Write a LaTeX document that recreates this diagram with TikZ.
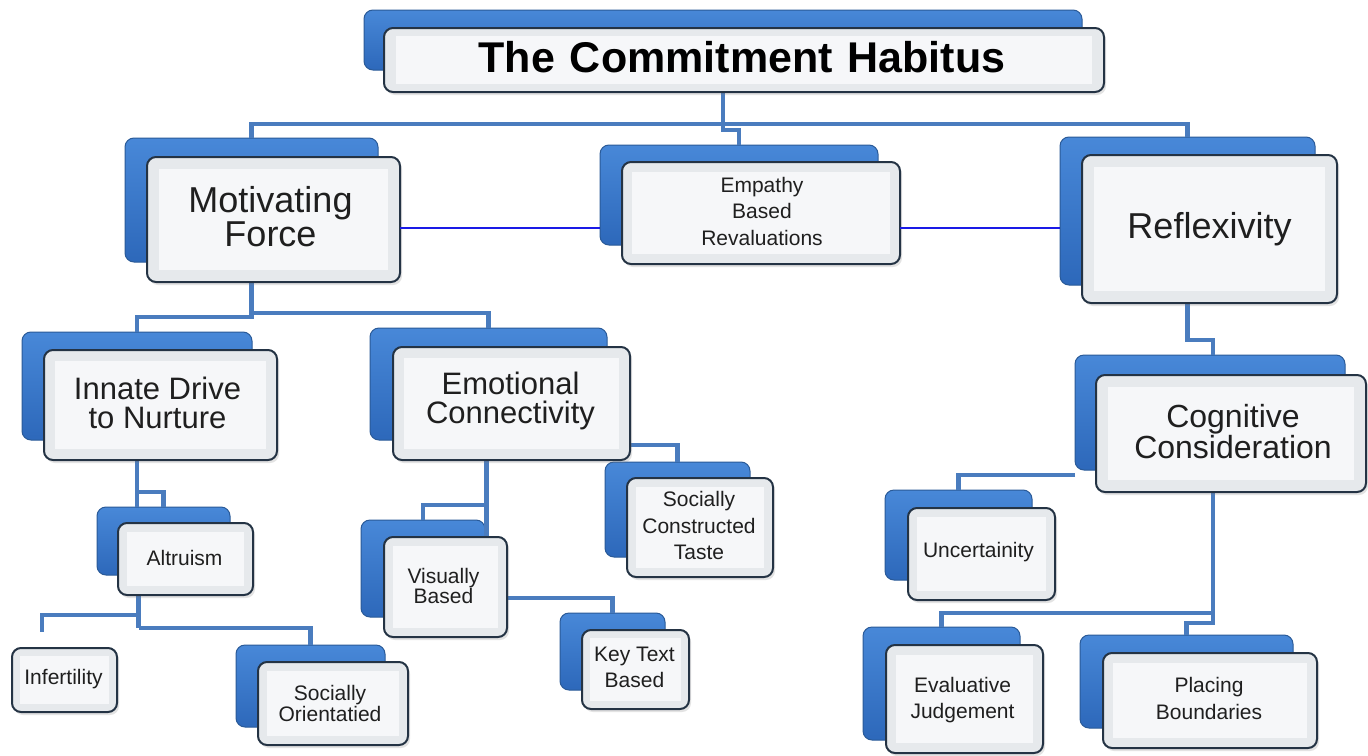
\documentclass[tikz,border=0pt]{standalone}
\usepackage{fontspec}
\setmainfont{Liberation Sans}
\usetikzlibrary{fit,calc,shadows}
\definecolor{bbtop}{HTML}{4888D8}
\definecolor{bbbot}{HTML}{2D68BA}
\definecolor{bbedge}{HTML}{2A5A98}
\definecolor{fbout}{HTML}{E6E9EC}
\definecolor{fbin}{HTML}{F6F7F9}
\definecolor{fbedge}{HTML}{243344}
\definecolor{connblue}{HTML}{4A7CBE}
\definecolor{linkblue}{HTML}{1A1AE6}
\tikzset{
  backbox/.style={rectangle, rounded corners=9pt, top color=bbtop, bottom color=bbbot, draw=bbedge, line width=1pt, inner sep=0pt, outer sep=0pt},
  frontbox/.style={rectangle, rounded corners=9pt, fill=fbout, draw=fbedge, line width=2pt, inner sep=0pt, outer sep=0pt, drop shadow={opacity=0.22, shadow xshift=2pt, shadow yshift=-3pt}},
  innerpanel/.style={rectangle, fill=fbin, inner sep=0pt, outer sep=0pt},
  conn/.style={draw=connblue, line width=4.5pt, line join=miter},
  link/.style={draw=linkblue, line width=1.5pt},
  lab/.style={align=center, inner sep=0pt, text=black!88},
  ttl/.style={lab, text=black, font=\fontsize{43}{46}\selectfont\bfseries},
  bigA/.style={lab, font=\fontsize{36}{34}\selectfont},
  bigB/.style={lab, font=\fontsize{31}{29}\selectfont},
  bigC/.style={lab, font=\fontsize{31}{29}\selectfont},
  bigD/.style={lab, font=\fontsize{32}{29}\selectfont},
  sm/.style={lab, font=\fontsize{21}{26.5}\selectfont},
  smT/.style={lab, font=\fontsize{21}{19}\selectfont},
  smO/.style={lab, font=\fontsize{21}{20.5}\selectfont},
}
\begin{document}
\begin{tikzpicture}[x=1pt,y=-1pt]
\useasboundingbox (0,0) rectangle (1368,755);
\fill[white] (0,0) rectangle (1368,755);

% ---------- back boxes ----------
\node[backbox, fit={(364,10) (1082,70)}] (titleb) {};
\node[backbox, fit={(125,138) (378,262)}] (motb) {};
\node[backbox, fit={(600,145) (878,245)}] (empb) {};
\node[backbox, fit={(1060,137) (1315,285)}] (refb) {};
\node[backbox, fit={(22,332) (252,440)}] (innb) {};
\node[backbox, fit={(370,328) (607,440)}] (emob) {};
\node[backbox, fit={(605,462) (750,557)}] (sctb) {};
\node[backbox, fit={(97,507) (230,575)}] (altb) {};
\node[backbox, fit={(361,520) (485,617)}] (visb) {};
\node[backbox, fit={(560,613) (665,690)}] (keyb) {};
\node[backbox, fit={(236,645) (385,727)}] (sorb) {};
\node[backbox, fit={(1075,355) (1345,470)}] (cogb) {};
\node[backbox, fit={(885,490) (1032,580)}] (uncb) {};
\node[backbox, fit={(863,627) (1020,740)}] (evab) {};
\node[backbox, fit={(1080,635) (1293,728)}] (plab) {};

% ---------- connectors ----------
\coordinate (hA) at (0,228);
\draw[conn] (titleb.south) -- ++(0,54) -| (motb.north);
\draw[conn] (titleb.south) -- ++(0,54) -| (refb.north);
\draw[conn] (titleb.south) -- ++(0,60) -| (empb.north);
\draw[conn] (motb.south) -- ++(0,55) -| (innb.north);
\draw[conn] (motb.south) -- ++(0,51) -| (emob.north);
\draw[conn] (innb.south) -- (innb.south |- altb.north);
\draw[conn] (innb.south) -- ++(0,52) -| (altb.north);
\draw[conn] ([xshift=-25pt]altb.south) -- ++(0,53) coordinate (altj);
\coordinate (infend) at (42,632);
\draw[conn] (altj |- 0,615) -| (infend);
\draw[conn] (altj |- 0,628) -| (sorb.north);
\draw[conn] ([xshift=-2pt]emob.south) -- ++(0,97);
\draw[conn] ([xshift=-2pt]emob.south) -- ++(0,65) -| (visb.north);
\draw[conn] (emob.south east |- 0,445) -| (sctb.north);
\draw[conn] (visb.east |- 0,598) -| (keyb.north);
\draw[conn] (refb.south) -- ++(0,55) -| ([xshift=3pt]cogb.north);
\draw[conn] (cogb.south west |- 0,475) -| (uncb.north);
\draw[conn] ([xshift=3pt]cogb.south) -- ++(0,153) -| (plab.north);
\draw[conn] ([xshift=3pt]cogb.south) -- ++(0,143) -| (evab.north);

% ---------- front boxes ----------
\node[frontbox, fit={(384,28) (1104,92)}] (title) {};
\node[innerpanel, fit={($(title.north west)+(12,8)$) ($(title.south east)-(12,8)$)}] (titlep) {};
\node[ttl] (titlet) at ($(title.center)+(-2,-3)$) {The\hspace{15pt}Commitment\hspace{15pt}Habitus};

\node[frontbox, fit={(147,157) (400,282)}] (mot) {};
\node[innerpanel, fit={($(mot.north west)+(12,12)$) ($(mot.south east)-(12,12)$)}] (motp) {};
\node[bigA] (mott) at ($(mot.center)+(-3,-3)$) {Motivating\\Force};

\node[frontbox, fit={(622,162) (900,264)}] (emp) {};
\node[innerpanel, fit={($(emp.north west)+(10,10)$) ($(emp.south east)-(10,10)$)}] (empp) {};
\node[sm] (empt) at ($(emp.center)+(1,-2)$) {Empathy\\Based\\Revaluations};

\node[frontbox, fit={(1082,155) (1337,303)}] (ref) {};
\node[innerpanel, fit={($(ref.north west)+(12,12)$) ($(ref.south east)-(12,12)$)}] (refp) {};
\node[bigA] (reft) at ($(ref.center)+(0,0)$) {Reflexivity};

\node[frontbox, fit={(44,350) (277,460)}] (inn) {};
\node[innerpanel, fit={($(inn.north west)+(11,11)$) ($(inn.south east)-(11,11)$)}] (innp) {};
\node[bigB] (innt) at ($(inn.center)+(-3,-2)$) {Innate Drive\\to Nurture};

\node[frontbox, fit={(393,347) (630,460)}] (emo) {};
\node[innerpanel, fit={($(emo.north west)+(11,11)$) ($(emo.south east)-(11,11)$)}] (emop) {};
\node[bigC] (emot) at ($(emo.center)+(-1,-3)$) {Emotional\\Connectivity};

\node[frontbox, fit={(627,478) (773,577)}] (sct) {};
\node[innerpanel, fit={($(sct.north west)+(9,9)$) ($(sct.south east)-(9,9)$)}] (sctp) {};
\node[sm] (sctt) at ($(sct.center)+(-1,-2)$) {Socially\\Constructed\\Taste};

\node[frontbox, fit={(118,523) (253,595)}] (alt) {};
\node[innerpanel, fit={($(alt.north west)+(9,9)$) ($(alt.south east)-(9,9)$)}] (altp) {};
\node[sm] (altt) at ($(alt.center)+(-1,-1)$) {Altruism};

\node[frontbox, fit={(384,537) (507,637)}] (vis) {};
\node[innerpanel, fit={($(vis.north west)+(9,9)$) ($(vis.south east)-(9,9)$)}] (visp) {};
\node[smT] (vist) at ($(vis.center)+(-2,-1)$) {Visually\\Based};

\node[frontbox, fit={(582,630) (689,709)}] (key) {};
\node[innerpanel, fit={($(key.north west)+(8,8)$) ($(key.south east)-(8,8)$)}] (keyp) {};
\node[sm] (keyt) at ($(key.center)+(-1,-2)$) {Key Text\\Based};

\node[frontbox, fit={(12,648) (117,712)}] (inf) {};
\node[innerpanel, fit={($(inf.north west)+(8,8)$) ($(inf.south east)-(8,8)$)}] (infp) {};
\node[sm] (inft) at ($(inf.center)+(-1,-1)$) {Infertility};

\node[frontbox, fit={(258,662) (408,745)}] (sor) {};
\node[innerpanel, fit={($(sor.north west)+(9,9)$) ($(sor.south east)-(9,9)$)}] (sorp) {};
\node[smO] (sort) at ($(sor.center)+(-3,0)$) {Socially\\Orientatied};

\node[frontbox, fit={(1096,375) (1366,492)}] (cog) {};
\node[innerpanel, fit={($(cog.north west)+(12,12)$) ($(cog.south east)-(12,12)$)}] (cogp) {};
\node[bigD] (cogt) at ($(cog.center)+(2,-2)$) {Cognitive\\Consideration};

\node[frontbox, fit={(908,508) (1055,600)}] (unc) {};
\node[innerpanel, fit={($(unc.north west)+(9,9)$) ($(unc.south east)-(9,9)$)}] (uncp) {};
\node[sm] (unct) at ($(unc.center)+(-3,-2)$) {Uncertainity};

\node[frontbox, fit={(886,645) (1043,753)}] (eva) {};
\node[innerpanel, fit={($(eva.north west)+(10,10)$) ($(eva.south east)-(10,10)$)}] (evap) {};
\node[sm] (evat) at ($(eva.center)+(-2,1)$) {Evaluative\\Judgement};

\node[frontbox, fit={(1103,653) (1317,748)}] (pla) {};
\node[innerpanel, fit={($(pla.north west)+(10,10)$) ($(pla.south east)-(10,10)$)}] (plap) {};
\node[sm] (plat) at ($(pla.center)+(-1,-2)$) {Placing\\Boundaries};

% ---------- thin blue links ----------
\draw[link] (mot.east |- hA) -- (empb.west |- hA);
\draw[link] (emp.east |- hA) -- (refb.west |- hA);
\end{tikzpicture}
\end{document}
